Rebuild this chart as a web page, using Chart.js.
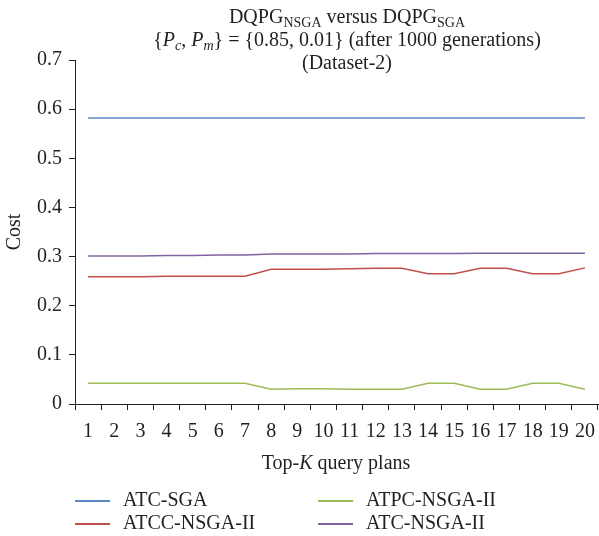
<!DOCTYPE html>
<html>
<head>
<meta charset="utf-8">
<script src="https://cdn.jsdelivr.net/npm/chart.js@4.4.1/dist/chart.umd.min.js"></script>
<style>
  body { margin: 0; background: #fff; }
  #wrap { position: relative; width: 599px; height: 536px; font-family: "Liberation Serif", "DejaVu Serif", serif; color: #231f20; }
  canvas { position: absolute; left: 0; top: 0; }
  #title { position: absolute; left: 97px; width: 500px; top: 5px; text-align: center; font-size: 20px; line-height: 23px; }
  #title sub { font-size: 14px; line-height: 0; vertical-align: -4px; }
  #xtitle { position: absolute; left: 75px; width: 522px; top: 451px; text-align: center; font-size: 20px; }
  #legend { position: absolute; left: 75px; top: 488px; width: 520px; font-size: 20px; }
  .item { position: absolute; height: 23px; line-height: 23px; white-space: nowrap; }
  .item span.ln { display: inline-block; width: 35px; height: 2px; vertical-align: middle; margin-right: 13px; }
</style>
</head>
<body>
<div id="wrap">
  <canvas id="chart" width="599" height="536"></canvas>
  <div id="title">
    DQPG<sub>NSGA</sub> versus DQPG<sub>SGA</sub><br>
    {<i>P<sub>c</sub></i>, <i>P<sub>m</sub></i>} = {0.85, 0.01} (after 1000 generations)<br>
    (Dataset-2)
  </div>
  <div id="xtitle">Top-<i>K</i> query plans</div>
  <div id="legend"></div>
</div>
<script>
// categories (Top-K)
const labels = ['1','2','3','4','5','6','7','8','9','10','11','12','13','14','15','16','17','18','19','20'];

// series
const atcSga = [0.582,0.582,0.582,0.582,0.582,0.582,0.582,0.582,0.582,0.582,0.582,0.582,0.582,0.582,0.582,0.582,0.582,0.582,0.582,0.582];
const atccNsga = [0.259,0.259,0.259,0.260,0.260,0.260,0.260,0.274,0.274,0.274,0.275,0.276,0.276,0.265,0.265,0.276,0.276,0.265,0.265,0.277];
const atpcNsga = [0.042,0.042,0.042,0.042,0.042,0.042,0.042,0.030,0.031,0.031,0.030,0.030,0.030,0.042,0.042,0.030,0.030,0.042,0.042,0.030];
const atcNsga = [0.301,0.301,0.301,0.302,0.302,0.303,0.303,0.305,0.305,0.305,0.305,0.306,0.306,0.306,0.306,0.307,0.307,0.307,0.307,0.307];

const seriesNames = ['ATC-SGA', 'ATCC-NSGA-II', 'ATPC-NSGA-II', 'ATC-NSGA-II'];
const seriesColors = ['#5b87c5', '#c0504d', '#9bbb59', '#8064a2'];
const yTicks = [0, 0.1, 0.2, 0.3, 0.4, 0.5, 0.6, 0.7];

const allSeries = [atcSga, atccNsga, atpcNsga, atcNsga];
const serif = '"Liberation Serif", "DejaVu Serif", serif';

const datasets = allSeries.map((d, i) => ({
    label: seriesNames[i],
    data: d,
    borderColor: seriesColors[i],
    backgroundColor: seriesColors[i],
    borderWidth: 1.5,
    pointRadius: 0,
    tension: 0,
    fill: false
}));

new Chart(document.getElementById('chart'), {
    type: 'line',
    data: { labels: labels, datasets: datasets },
    options: {
        responsive: false,
        animation: false,
        layout: { padding: { top: 60, right: 1, bottom: 82, left: 0 } },
        plugins: {
            legend: { display: false },
            title: { display: false },
            tooltip: { enabled: false }
        },
        scales: {
            x: {
                offset: true,
                grid: { offset: true, drawOnChartArea: false, drawTicks: true, tickLength: 6, color: '#231f20', lineWidth: 1 },
                border: { color: '#231f20', width: 1 },
                ticks: { color: '#231f20', font: { family: serif, size: 20 }, padding: 10, maxRotation: 0, autoSkip: false },
                afterFit: s => { s.height = 50; s.paddingLeft = 0; s.paddingRight = 0; }
            },
            y: {
                min: 0,
                max: 0.7,
                afterBuildTicks: s => { s.ticks = yTicks.map(v => ({ value: v })); },
                grid: { drawOnChartArea: false, drawTicks: true, tickLength: 6, color: '#231f20', lineWidth: 1 },
                border: { color: '#231f20', width: 1 },
                ticks: { color: '#231f20', font: { family: serif, size: 20 }, padding: 7,
                    callback: v => v === 0 ? '0' : v.toFixed(1) },
                title: { display: true, text: 'Cost', color: '#231f20', font: { family: serif, size: 20 }, padding: { top: 3, bottom: 0 } },
                afterFit: s => { s.width = 75; }
            }
        }
    }
});

// legend: two columns, row-major as in the figure
const legendOrder = [0, 2, 1, 3];
const legendEl = document.getElementById('legend');
legendOrder.forEach((idx, k) => {
    const div = document.createElement('div');
    div.className = 'item';
    div.style.left = (k % 2 === 0 ? 0 : 243) + 'px';
    div.style.top = (Math.floor(k / 2) * 23) + 'px';
    div.innerHTML = '<span class="ln" style="background:' + seriesColors[idx] + '"></span>' + seriesNames[idx];
    legendEl.appendChild(div);
});
</script>
</body>
</html>
